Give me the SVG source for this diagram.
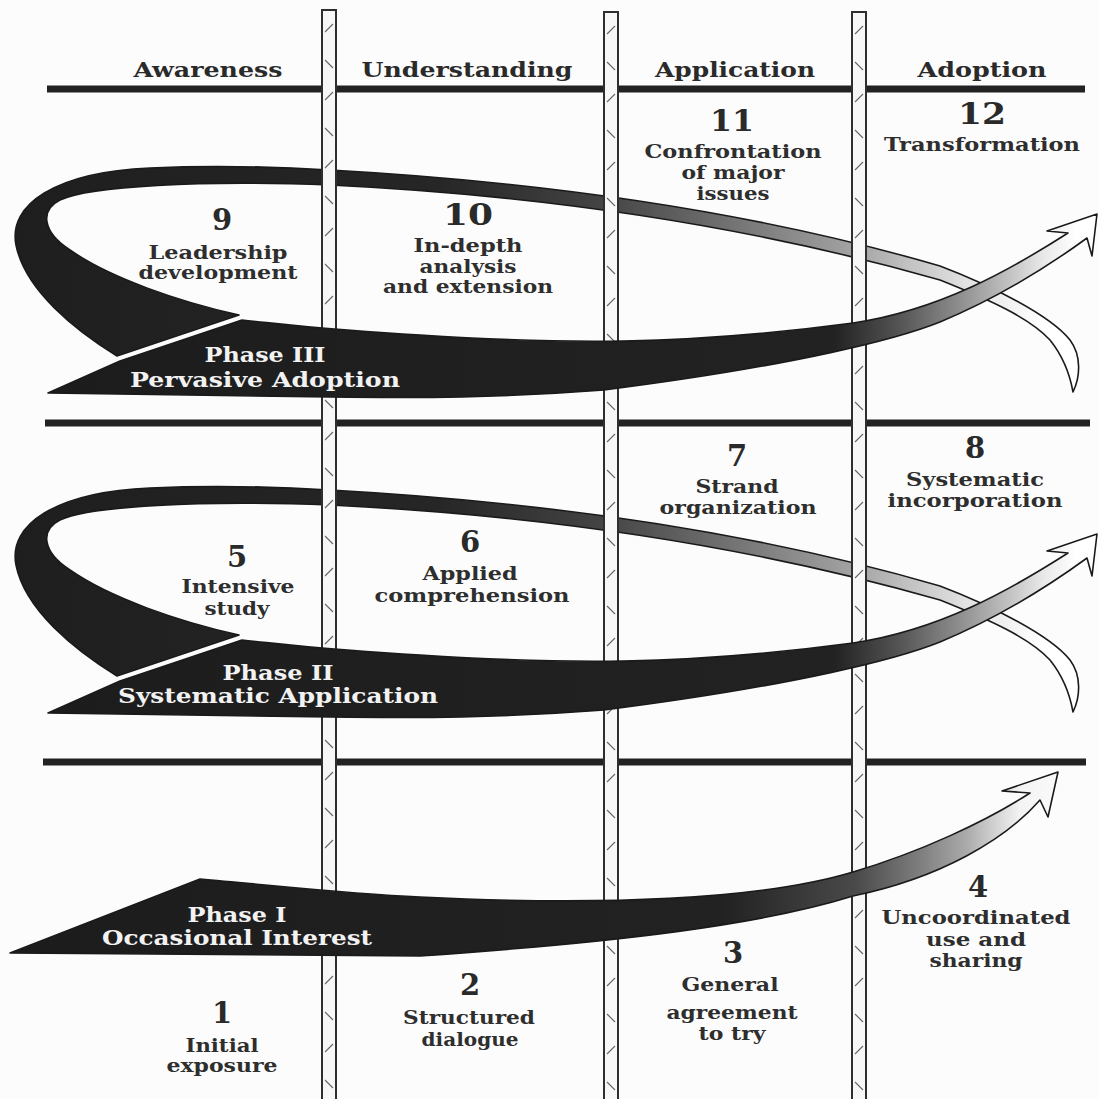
<svg xmlns="http://www.w3.org/2000/svg" xmlns:xlink="http://www.w3.org/1999/xlink" width="1098" height="1099" viewBox="0 0 1098 1099">
<defs>
<style>
text{font-family:"DejaVu Serif","Liberation Serif",serif;font-weight:bold;text-anchor:middle}
.hdr{font-size:20px;fill:#2a2a2a}
.num{font-size:29px;fill:#2a2a2a}
.lbl{font-size:18px;fill:#2e2e2e}
.ph{font-size:21px;fill:#f2f2f2}
.bar{stroke:#222;stroke-width:7;fill:none}
.edge{stroke:#1a1a1a;stroke-width:1.6;stroke-linejoin:round}
.pill{fill:#f7f7f7;stroke:#2e2e2e;stroke-width:2}
</style>
<linearGradient id="loopGrad" gradientUnits="userSpaceOnUse" x1="0" y1="0" x2="1098" y2="0">
<stop offset="0" stop-color="#1e1e1e"/>
<stop offset="0.40" stop-color="#262626"/>
<stop offset="0.55" stop-color="#444"/>
<stop offset="0.66" stop-color="#707070"/>
<stop offset="0.78" stop-color="#a4a4a4"/>
<stop offset="0.88" stop-color="#e2e2e2"/>
<stop offset="0.95" stop-color="#fff"/>
</linearGradient>
<linearGradient id="bandGrad" gradientUnits="userSpaceOnUse" x1="0" y1="0" x2="1098" y2="0">
<stop offset="0" stop-color="#1c1c1c"/>
<stop offset="0.76" stop-color="#222"/>
<stop offset="0.82" stop-color="#555"/>
<stop offset="0.87" stop-color="#8a8a8a"/>
<stop offset="0.915" stop-color="#bdbdbd"/>
<stop offset="0.95" stop-color="#e8e8e8"/>
<stop offset="0.98" stop-color="#fff"/>
</linearGradient>
<linearGradient id="band1Grad" gradientUnits="userSpaceOnUse" x1="0" y1="0" x2="1098" y2="0">
<stop offset="0" stop-color="#1c1c1c"/>
<stop offset="0.66" stop-color="#222"/>
<stop offset="0.78" stop-color="#4a4a4a"/>
<stop offset="0.84" stop-color="#808080"/>
<stop offset="0.88" stop-color="#aaa"/>
<stop offset="0.91" stop-color="#d8d8d8"/>
<stop offset="0.93" stop-color="#f4f4f4"/>
<stop offset="1" stop-color="#fff"/>
</linearGradient>
<pattern id="ticks" patternUnits="userSpaceOnUse" width="14" height="68">
<path d="M3,22 L11,14 M3,50 L11,58" stroke="#666" stroke-width="1.1" fill="none"/>
</pattern>
<path id="loop" class="edge" fill="url(#loopGrad)" d="M117,356 C75,330 25,290 16,245 C8,205 55,172 150,168 C220,165 280,167 330,170 C600,185 800,225 940,266 C990,285 1050,315 1070,340 C1082,356 1080,378 1073,392 C1070,375 1062,355 1050,340 C1030,318 990,300 940,280 C800,240 600,198 330,185 C200,180 90,186 60,200 C40,210 42,232 70,250 C110,278 180,302 239,315 Z"/>
<path id="band" class="edge" fill="url(#bandGrad)" d="M48,393 L120,361 L242,320 C300,326 340,331 420,335 C560,344 680,346 853,323 C940,310 1010,270 1068,233 L1047,231 L1097,214 L1092,256 L1087,238 C1050,265 1000,297 940,322 C900,338 800,365 604,390 C500,398 420,398 330,397 L48,393 Z"/>
<g id="pillar">
<rect x="0" y="0" width="14" height="1120" class="pill"/>
<rect x="1" y="0" width="12" height="1120" fill="url(#ticks)"/>
</g>
</defs>
<rect x="0" y="0" width="1098" height="1099" fill="#fcfcfc"/>

<g id="grid-bars">
<line class="bar" x1="47" y1="89" x2="1085" y2="89"/>
<line class="bar" x1="45" y1="423" x2="1090" y2="423"/>
<line class="bar" x1="43" y1="762" x2="1086" y2="762"/>
</g>

<g id="connectors-back">
<use id="loop-phase3" xlink:href="#loop"/>
<use id="loop-phase2" xlink:href="#loop" transform="translate(0,320)"/>
</g>

<g id="pillars">
<use xlink:href="#pillar" x="322" y="10"/>
<use xlink:href="#pillar" x="604" y="12"/>
<use xlink:href="#pillar" x="852" y="12"/>
</g>

<g id="connectors">
<use id="band-phase3" xlink:href="#band"/>
<use id="band-phase2" xlink:href="#band" transform="translate(0,320)"/>
<path id="band-phase1" class="edge" fill="url(#band1Grad)" d="M10,953 L200,879 C280,886 350,894 420,897 C600,906 760,900 853,872 C920,852 985,822 1030,793 L1002,791 L1058,772 L1048,817 L1040,800 C1005,840 940,878 853,896 C760,925 620,942 420,956 L10,953 Z"/>
</g>

<g id="phase-labels">
<g id="phase3-label"><text class="ph" x="265" y="362" textLength="121" lengthAdjust="spacingAndGlyphs">Phase III</text><text class="ph" x="265" y="387" textLength="270" lengthAdjust="spacingAndGlyphs">Pervasive Adoption</text></g>
<g id="phase2-label"><text class="ph" x="278" y="680" textLength="111" lengthAdjust="spacingAndGlyphs">Phase II</text><text class="ph" x="278" y="703" textLength="320" lengthAdjust="spacingAndGlyphs">Systematic Application</text></g>
<g id="phase1-label"><text class="ph" x="237" y="922" textLength="99" lengthAdjust="spacingAndGlyphs">Phase I</text><text class="ph" x="237" y="945" textLength="270" lengthAdjust="spacingAndGlyphs">Occasional Interest</text></g>
</g>

<g id="headers">
<g id="hdr-awareness"><text class="hdr" x="208" y="77" textLength="149" lengthAdjust="spacingAndGlyphs">Awareness</text></g>
<g id="hdr-understanding"><text class="hdr" x="467" y="77" textLength="211" lengthAdjust="spacingAndGlyphs">Understanding</text></g>
<g id="hdr-application"><text class="hdr" x="735" y="77" textLength="160" lengthAdjust="spacingAndGlyphs">Application</text></g>
<g id="hdr-adoption"><text class="hdr" x="982" y="77" textLength="129" lengthAdjust="spacingAndGlyphs">Adoption</text></g>
</g>

<g id="node-12"><text class="num" x="982" y="124" textLength="48" lengthAdjust="spacingAndGlyphs">12</text><text class="lbl" x="982" y="151" textLength="196" lengthAdjust="spacingAndGlyphs">Transformation</text></g>
<g id="node-11"><text class="num" x="732" y="131" textLength="44" lengthAdjust="spacingAndGlyphs">11</text><text class="lbl" x="733" y="158" textLength="177" lengthAdjust="spacingAndGlyphs">Confrontation</text><text class="lbl" x="733" y="179" textLength="103" lengthAdjust="spacingAndGlyphs">of major</text><text class="lbl" x="733" y="200" textLength="73" lengthAdjust="spacingAndGlyphs">issues</text></g>
<g id="node-10"><text class="num" x="468" y="225" textLength="50" lengthAdjust="spacingAndGlyphs">10</text><text class="lbl" x="468" y="252" textLength="109" lengthAdjust="spacingAndGlyphs">In-depth</text><text class="lbl" x="468" y="273" textLength="97" lengthAdjust="spacingAndGlyphs">analysis</text><text class="lbl" x="468" y="293" textLength="170" lengthAdjust="spacingAndGlyphs">and extension</text></g>
<g id="node-9"><text class="num" x="222" y="230">9</text><text class="lbl" x="218" y="259" textLength="139" lengthAdjust="spacingAndGlyphs">Leadership</text><text class="lbl" x="218" y="279" textLength="159" lengthAdjust="spacingAndGlyphs">development</text></g>
<g id="node-8"><text class="num" x="975" y="458">8</text><text class="lbl" x="975" y="486" textLength="138" lengthAdjust="spacingAndGlyphs">Systematic</text><text class="lbl" x="975" y="507" textLength="175" lengthAdjust="spacingAndGlyphs">incorporation</text></g>
<g id="node-7"><text class="num" x="737" y="466">7</text><text class="lbl" x="737" y="493" textLength="83" lengthAdjust="spacingAndGlyphs">Strand</text><text class="lbl" x="738" y="514" textLength="157" lengthAdjust="spacingAndGlyphs">organization</text></g>
<g id="node-6"><text class="num" x="470" y="552">6</text><text class="lbl" x="470" y="580" textLength="95" lengthAdjust="spacingAndGlyphs">Applied</text><text class="lbl" x="472" y="602" textLength="195" lengthAdjust="spacingAndGlyphs">comprehension</text></g>
<g id="node-5"><text class="num" x="237" y="567">5</text><text class="lbl" x="238" y="593" textLength="113" lengthAdjust="spacingAndGlyphs">Intensive</text><text class="lbl" x="237" y="615" textLength="65" lengthAdjust="spacingAndGlyphs">study</text></g>
<g id="node-4"><text class="num" x="978" y="897">4</text><text class="lbl" x="976" y="924" textLength="189" lengthAdjust="spacingAndGlyphs">Uncoordinated</text><text class="lbl" x="976" y="946" textLength="100" lengthAdjust="spacingAndGlyphs">use and</text><text class="lbl" x="976" y="967" textLength="93" lengthAdjust="spacingAndGlyphs">sharing</text></g>
<g id="node-3"><text class="num" x="733" y="963">3</text><text class="lbl" x="730" y="991" textLength="97" lengthAdjust="spacingAndGlyphs">General</text><text class="lbl" x="732" y="1019" textLength="131" lengthAdjust="spacingAndGlyphs">agreement</text><text class="lbl" x="732" y="1040" textLength="67" lengthAdjust="spacingAndGlyphs">to try</text></g>
<g id="node-2"><text class="num" x="470" y="995">2</text><text class="lbl" x="469" y="1024" textLength="132" lengthAdjust="spacingAndGlyphs">Structured</text><text class="lbl" x="470" y="1046" textLength="97" lengthAdjust="spacingAndGlyphs">dialogue</text></g>
<g id="node-1"><text class="num" x="222" y="1023">1</text><text class="lbl" x="222" y="1052" textLength="73" lengthAdjust="spacingAndGlyphs">Initial</text><text class="lbl" x="222" y="1072" textLength="111" lengthAdjust="spacingAndGlyphs">exposure</text></g>
</svg>
